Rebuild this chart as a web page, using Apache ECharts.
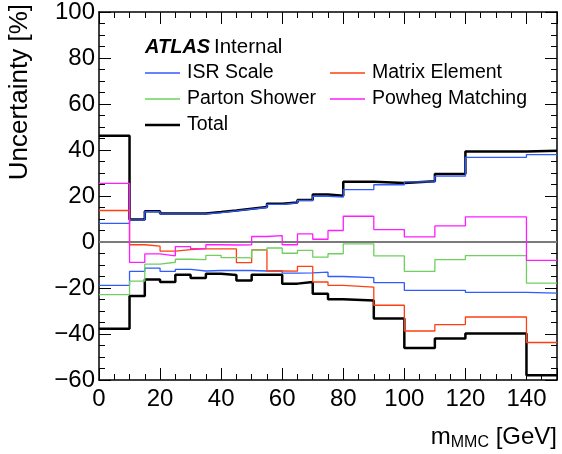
<!DOCTYPE html>
<html><head><meta charset="utf-8">
<script src="https://cdn.jsdelivr.net/npm/echarts@6/dist/echarts.min.js"></script>
<style>html,body{margin:0;padding:0;background:#fff}#c{width:562px;height:454px}</style>
</head><body><div id="c"></div>
<script>
// Bin edges of m_MMC [GeV]
const binEdges = [0,10,15,20,25,30,35,40,45,50,55,60,65,70,75,80,90,100,110,120,140,150];
// Uncertainties [%] per bin
const isrScaleUp   = [8.1, 9.6, 13.2, 12.2, 12.2, 12.2, 12.8, 13.5, 14.3, 15.0, 16.4, 17.0, 18.1, 19.9, 19.5, 22.8, 24.9, 26.1, 28.6, 36.8, 38.0];
const isrScaleDown = [-18.9, -12.8, -11.4, -12.8, -11.9, -12.6, -12.4, -12.4, -12.4, -12.6, -12.5, -13.5, -13.4, -13.1, -15.0, -15.5, -17.7, -21.0, -21.0, -21.9, -22.2];
const matrixElement = [13.7, -1.2, -1.8, -4.0, -3.3, -3.0, -3.0, -3.0, -9.0, -3.4, -12.6, -12.7, -10.6, -17.4, -18.9, -19.6, -27.5, -38.7, -35.9, -32.6, -43.7];
const partonShower  = [-22.9, -17.0, -9.6, -8.8, -7.5, -7.7, -5.8, -6.8, -6.9, -3.5, -2.6, -4.9, -3.6, -6.6, -5.1, -0.8, -6.0, -12.8, -7.7, -5.9, -17.9];
const powhegMatching = [25.5, -8.9, -5.2, -6.0, -2.0, -2.9, -1.2, -1.3, -1.2, 2.4, 2.8, -1.2, 3.5, 1.2, 5.0, 11.2, 5.4, 2.2, 7.0, 10.9, -8.0];
const totalUp   = [46.2, 9.8, 13.4, 12.4, 12.4, 12.4, 13.0, 13.7, 14.5, 15.2, 16.6, 17.2, 18.3, 20.7, 20.1, 26.2, 25.7, 26.4, 29.6, 39.4, 39.7];
const totalDown = [-37.7, -23.5, -16.3, -17.4, -14.2, -15.7, -13.8, -14.3, -16.7, -14.2, -14.2, -18.1, -17.4, -22.5, -24.9, -25.4, -33.3, -46.1, -42.0, -39.8, -57.9];
const yTicks = [-60, -40, -20, 0, 20, 40, 60, 80, 100];
const xTicks = [0, 20, 40, 60, 80, 100, 120, 140];

const FONT = "'Liberation Sans', Arial, Helvetica, sans-serif";
const C_ISR = '#2f5bff', C_ME = '#ff3f0f', C_PS = '#6fd060', C_PM = '#ff1cff', C_TOT = '#000000';

function histo(vals) {
  const d = vals.map((v, i) => [binEdges[i], v]);
  d.push([binEdges[binEdges.length - 1], vals[vals.length - 1]]);
  return d;
}
function stepSeries(name, vals, color, width, z) {
  return { name, type: 'line', step: 'end', data: histo(vals), symbol: 'none', z: z,
    lineStyle: { color, width }, itemStyle: { color }, animation: false, silent: true };
}

const xMin = binEdges[0], xMax = binEdges[binEdges.length - 1];
const yMin = yTicks[0], yMax = yTicks[yTicks.length - 1];

function xAx(pos, interval, len, labels, line) {
  return { type: 'value', position: pos, min: xMin, max: xMax, interval,
    axisLine: { show: line, onZero: false, lineStyle: { color: '#000', width: 1.5 } },
    axisTick: { show: true, inside: true, length: len, lineStyle: { color: '#000', width: 1 } },
    axisLabel: { show: labels, color: '#000', fontSize: 24, fontFamily: FONT, margin: 7,
      formatter: v => (xTicks.indexOf(v) >= 0 ? String(v) : '') },
    splitLine: { show: false } };
}
function yAx(pos, labels) {
  return { type: 'value', position: pos, min: yMin, max: yMax, interval: 20,
    axisLine: { show: true, onZero: false, lineStyle: { color: '#000', width: 1.5 } },
    axisTick: { show: true, inside: true, length: 12, lineStyle: { color: '#000', width: 1 } },
    minorTick: { show: true, splitNumber: 4, length: 6, lineStyle: { color: '#000', width: 1 } },
    axisLabel: { show: labels, color: '#000', fontSize: 24, fontFamily: FONT, margin: 4,
      formatter: v => (v < 0 ? '\u2212' + (-v) : String(v)) },
    splitLine: { show: false } };
}

const chart = echarts.init(document.getElementById('c'), null, { renderer: 'canvas' });
const legendRows = [
  { y: 73, items: [['ISR Scale', C_ISR, 1.3], ['Matrix Element', C_ME, 1.3]] },
  { y: 99, items: [['Parton Shower', C_PS, 1.3], ['Powheg Matching', C_PM, 1.3]] },
  { y: 125, items: [['Total', C_TOT, 2.5]] }
];
const colX = [145, 330];
const graphics = [];
legendRows.forEach(r => r.items.forEach((it, k) => {
  graphics.push({ type: 'line', shape: { x1: colX[k], y1: r.y, x2: colX[k] + 35, y2: r.y },
    style: { stroke: it[1], lineWidth: it[2] }, silent: true });
  graphics.push({ type: 'text', x: colX[k] + 42, y: r.y,
    style: { text: it[0], font: '19.5px ' + FONT, fill: '#000', textVerticalAlign: 'middle', verticalAlign: 'middle' }, silent: true });
}));
graphics.push({ type: 'text', x: 145, y: 47, style: { text: 'ATLAS', font: 'italic bold 20px ' + FONT, fill: '#000', verticalAlign: 'middle' } });
graphics.push({ type: 'text', x: 214, y: 47, style: { text: 'Internal', font: '20.5px ' + FONT, fill: '#000', verticalAlign: 'middle' } });
graphics.push({ type: 'text', x: 20, y: 4, rotation: Math.PI / 2,
  style: { text: 'Uncertainty [%]', font: '26px ' + FONT, fill: '#000', align: 'right', verticalAlign: 'middle' } });
graphics.push({ type: 'text', x: 557, y: 437,
  style: { text: '{a|m}{b|MMC}{a| [GeV]}', align: 'right', verticalAlign: 'middle', fill: '#000',
    rich: { a: { fontSize: 24, fontFamily: FONT, lineHeight: 28, fill: '#000' },
            b: { fontSize: 16, fontFamily: FONT, lineHeight: 14, verticalAlign: 'bottom', fill: '#000' } } } });

chart.setOption({
  animation: false,
  grid: { left: 99, right: 5, top: 11, bottom: 74, containLabel: false },
  xAxis: [ xAx('bottom', 20, 12, true, true), xAx('bottom', 5, 6, false, false),
           xAx('top', 20, 12, false, true), xAx('top', 5, 6, false, false) ],
  yAxis: [ yAx('left', true), yAx('right', false) ],
  series: [
    { name: 'zero', type: 'line', data: [[xMin, 0], [xMax, 0]], symbol: 'none', z: 1,
      lineStyle: { color: '#7a7a7a', width: 2 }, silent: true },
    stepSeries('Total', totalUp, C_TOT, 2.5, 2),
    stepSeries('Total', totalDown, C_TOT, 2.5, 2),
    stepSeries('ISR Scale', isrScaleUp, C_ISR, 1.3, 3),
    stepSeries('ISR Scale', isrScaleDown, C_ISR, 1.3, 3),
    stepSeries('Matrix Element', matrixElement, C_ME, 1.3, 3),
    stepSeries('Parton Shower', partonShower, C_PS, 1.3, 3),
    stepSeries('Powheg Matching', powhegMatching, C_PM, 1.3, 3)
  ],
  graphic: graphics
});
</script></body></html>
